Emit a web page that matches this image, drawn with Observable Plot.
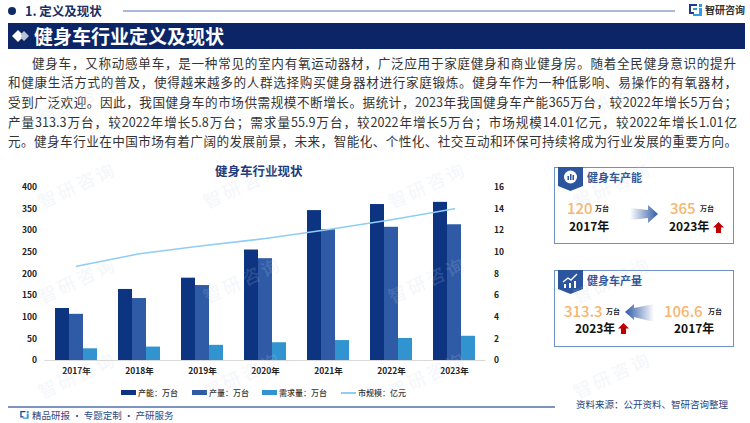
<!DOCTYPE html>
<html><head><meta charset="utf-8">
<script src="https://cdn.jsdelivr.net/npm/d3@7"></script>
<script src="https://cdn.jsdelivr.net/npm/@observablehq/plot@0.6"></script>
<style>
html,body{margin:0;padding:0;background:#fff}
#page{position:relative;width:750px;height:423px;overflow:hidden;font-family:"Noto Sans CJK SC","Noto Sans",sans-serif;background:#fff}
.a{position:absolute;white-space:nowrap;line-height:1}
.b{font-weight:700}
.line{position:absolute;left:8px;width:729px;height:19px;line-height:19px;font-size:12.6px;color:#333;text-align:justify;text-align-last:justify;text-justify:inter-character;white-space:nowrap}
.card{position:absolute;left:554px;width:178px;height:75px;border:1px solid #6f8fc8;background:#fff;box-sizing:content-box}
.num{color:#f7b56d;font-size:15px;font-weight:500}
.unit{font-size:7px;font-weight:700;color:#222}
.yr{font-size:12px;font-weight:700;color:#111}
.wm{position:absolute;color:#c6d2e4;opacity:.16;font-size:18px;letter-spacing:3px;transform:rotate(-25deg);white-space:nowrap;line-height:1;font-weight:500;pointer-events:none;z-index:5}
.leg{position:absolute;top:387px;height:12px;font-size:8px;line-height:12px;font-weight:500;color:#333;white-space:nowrap}
.sw{display:inline-block;width:15px;height:5px;vertical-align:middle;margin-right:2px;position:relative;top:-1px}
#chart{position:absolute;left:0;top:180px}
#chart svg{display:block;overflow:visible}
</style></head>
<body><div id="page">
<div class="a" style="left:8px;top:7px;width:8px;height:8px;border-radius:50%;background:#0f2a68"></div>
<div class="a b" style="left:25px;top:5px;font-size:12.5px;color:#1a2f66">1. 定义及现状</div>
<div class="a" style="left:123px;top:10px;width:552px;height:2px;background:#a9b9d8"></div>
<svg class="a" style="left:689px;top:4px" width="13" height="14" viewBox="0 0 13 14"><path d="M0 0H8V2H2V8H5V10H0Z" fill="#1f3d8c"/><path d="M4 4H8V6H4Z" fill="#2f9be0"/><path d="M10 0H13V3H10ZM10 4H13V12H4V10H10Z" fill="#2f9be0"/></svg>
<div class="a b" style="left:705px;top:5px;font-size:10px;color:#333">智研咨询</div>
<div class="a" style="left:8px;top:23px;width:737px;height:26px;background:#0b2566"></div>
<svg class="a" style="left:11px;top:29px" width="19" height="14" viewBox="0 0 19 14"><path d="M7 1L13 7L7 13L1 7Z" fill="#fff"/><path d="M13 2L18 7L13 12L9.5 8.5L11 7L9.5 5.5Z" fill="#b9c2d6"/></svg>
<div class="a b" style="left:34px;top:26px;font-size:19px;color:#fff">健身车行业定义及现状</div>

<div class="line" style="left:32px;width:704px;top:53px">健身车，又称动感单车，是一种常见的室内有氧运动器材，广泛应用于家庭健身和商业健身房。随着全民健身意识的提升</div>
<div class="line" style="top:72px">和健康生活方式的普及，使得越来越多的人群选择购买健身器材进行家庭锻炼。健身车作为一种低影响、易操作的有氧器材，</div>
<div class="line" style="top:92px">受到广泛欢迎。因此，我国健身车的市场供需规模不断增长。据统计，2023年我国健身车产能365万台，较2022年增长5万台；</div>
<div class="line" style="top:112px">产量313.3万台，较2022年增长5.8万台；需求量55.9万台，较2022年增长5万台；市场规模14.01亿元，较2022年增长1.01亿</div>
<div class="line" style="top:131px">元。健身车行业在中国市场有着广阔的发展前景，未来，智能化、个性化、社交互动和环保可持续将成为行业发展的重要方向。</div>

<div class="a b" style="left:215px;top:165px;font-size:12.5px;color:#1f3a7a">健身车行业现状</div>
<div id="chart"></div>

<div class="leg" style="left:121px"><span class="sw" style="background:#0d3481"></span>产能：万台</div>
<div class="leg" style="left:192px"><span class="sw" style="background:#2f5aa6"></span>产量：万台</div>
<div class="leg" style="left:262px"><span class="sw" style="background:#3194d0"></span>需求量：万台</div>
<div class="leg" style="left:341px"><span class="sw" style="background:#8fcdf5;height:1.5px"></span>市规模：亿元</div>

<div class="a" style="left:8px;top:406px;width:547px;height:1.5px;background:#7d93c0"></div>
<svg class="a" style="left:20px;top:411px" width="9" height="9" viewBox="0 0 13 14"><path d="M0 0H8V2H2V8H5V10H0Z" fill="#1f3d8c"/><path d="M10 0H13V3H10ZM10 4H13V12H4V10H10Z" fill="#2f9be0"/></svg>
<div class="a" style="left:32px;top:411px;font-size:9.5px;color:#2a4a86">精品研报 · 专题定制 · 产研服务</div>
<div class="a" style="left:576px;top:400px;font-size:9.5px;color:#2a3f7c">资料来源：公开资料、智研咨询整理</div>

<!-- card 1 -->
<div class="card" style="top:167px"></div>
<svg class="a" style="left:558px;top:167px" width="25" height="25" viewBox="0 0 25 25"><path d="M0 0H25V19L12.5 24L0 19Z" fill="#2c559f"/><circle cx="12.5" cy="10" r="6.5" fill="#fff"/><rect x="9.5" y="9" width="1.5" height="4" fill="#2c559f"/><rect x="12" y="7" width="1.5" height="6" fill="#2c559f"/><rect x="14.5" y="8" width="1.5" height="5" fill="#2c559f"/></svg>
<div class="a b" style="left:587px;top:172px;font-size:11px;color:#2f5597">健身车产能</div>
<div class="a num" style="left:567px;top:200px">120</div>
<div class="a unit" style="left:595px;top:205px">万台</div>
<div class="a yr" style="left:569px;top:220px">2017年</div>
<svg class="a" style="left:630px;top:205px" width="28" height="18" viewBox="0 0 28 18"><defs><linearGradient id="g1" x1="0" x2="1" y1="0" y2="0"><stop offset="0" stop-color="#2f5aa6" stop-opacity="0"/><stop offset="1" stop-color="#2f5aa6"/></linearGradient></defs><path d="M0 3L18 5V0L28 9L18 18V13L0 15Z" fill="url(#g1)"/></svg>
<div class="a num" style="left:670px;top:200px">365</div>
<div class="a unit" style="left:700px;top:205px">万台</div>
<div class="a yr" style="left:669px;top:220px">2023年</div>
<svg class="a" style="left:713px;top:222px" width="11" height="11" viewBox="0 0 11 11"><path d="M5.5 0L11 5.5H8V11H3V5.5H0Z" fill="#c00000"/></svg>

<!-- card 2 -->
<div class="card" style="top:270px"></div>
<svg class="a" style="left:558px;top:270px" width="25" height="25" viewBox="0 0 25 25"><path d="M0 0H25V19L12.5 24L0 19Z" fill="#2c559f"/><path d="M5 12L10 8L13 10L19 4" stroke="#fff" fill="none" stroke-width="1.4"/><rect x="6" y="14" width="2" height="4" fill="#fff"/><rect x="11" y="13" width="2" height="5" fill="#fff"/><rect x="16" y="11" width="2" height="7" fill="#fff"/></svg>
<div class="a b" style="left:587px;top:275px;font-size:11px;color:#2f5597">健身车产量</div>
<div class="a num" style="left:564px;top:303px">313.3</div>
<div class="a unit" style="left:606px;top:308px">万台</div>
<div class="a yr" style="left:575px;top:322px">2023年</div>
<svg class="a" style="left:618px;top:323px" width="11" height="11" viewBox="0 0 11 11"><path d="M5.5 0L11 5.5H8V11H3V5.5H0Z" fill="#c00000"/></svg>
<svg class="a" style="left:625px;top:304px" width="29" height="22" viewBox="0 0 29 22"><defs><linearGradient id="g2" x1="1" x2="0" y1="0" y2="0"><stop offset="0" stop-color="#2f5aa6" stop-opacity="0"/><stop offset="1" stop-color="#2f5aa6"/></linearGradient></defs><path d="M29 0L9 4V0L0 8L9 16V13L29 18Z" fill="url(#g2)"/></svg>
<div class="a num" style="left:664px;top:303px">106.6</div>
<div class="a unit" style="left:708px;top:308px">万台</div>
<div class="a yr" style="left:674px;top:322px">2017年</div>
</div>
<script>
const years = ["2017年","2018年","2019年","2020年","2021年","2022年","2023年"];
const capacity = [120,164,190,255,346,360,365];
const output = [106.6,143,173,235,302,307.5,313.3];
const demand = [27,31,35,41,46,50.9,55.9];
const market = [8.7,9.85,10.6,11.26,12.1,13,14.01];
const leftTicks = [0,50,100,150,200,250,300,350,400];
const rightTicks = [0,2,4,6,8,10,12,14,16];
const axisRatio = 25; // right axis 0–16 shares the plot height with left axis 0–400

const tickStyle = {fontSize:8.5,fontWeight:700,fill:"#222",fontFamily:'"Noto Sans CJK SC","Noto Sans",sans-serif'};
const chart = Plot.plot({
  width:520,height:200,
  marginLeft:44.5,marginRight:34.5,marginTop:6.7,marginBottom:20,
  style:{background:"transparent",overflow:"visible"},
  x:{domain:years,paddingInner:0.778,paddingOuter:0.389,label:null},
  y:{domain:[0,400],label:null},
  marks:[
    Plot.barY(years,{x:d=>d,y:(d,i)=>capacity[i],dx:-14,fill:"#0d3481",inset:0}),
    Plot.barY(years,{x:d=>d,y:(d,i)=>output[i],fill:"#2f5aa6",inset:0}),
    Plot.barY(years,{x:d=>d,y:(d,i)=>demand[i],dx:14,fill:"#3194d0",inset:0}),
    Plot.ruleY([0],{stroke:"#d9d9d9",strokeWidth:1}),
    Plot.line(years,{x:d=>d,y:(d,i)=>market[i]*axisRatio,stroke:"#8fcdf5",strokeWidth:1.6,curve:"linear"}),
    Plot.axisY({ticks:leftTicks,tickSize:0,tickPadding:8,label:null,...tickStyle}),
    Plot.axisY({anchor:"right",ticks:rightTicks.map(d=>d*axisRatio),tickFormat:d=>String(d/axisRatio),tickSize:0,tickPadding:8,label:null,textAnchor:"start",...tickStyle}),
    Plot.axisX({tickSize:0,tickPadding:7,label:null,...tickStyle})
  ]
});
document.getElementById("chart").appendChild(chart);

// faint repeating watermark
const page = document.getElementById("page");
for (const top of [90,175,270,365]) for (const left of [35,200,385,570]){
  const w=document.createElement("div");w.className="wm";w.textContent="智研咨询";
  w.style.left=left+"px";w.style.top=top+"px";page.appendChild(w);
}
</script>
</body></html>
